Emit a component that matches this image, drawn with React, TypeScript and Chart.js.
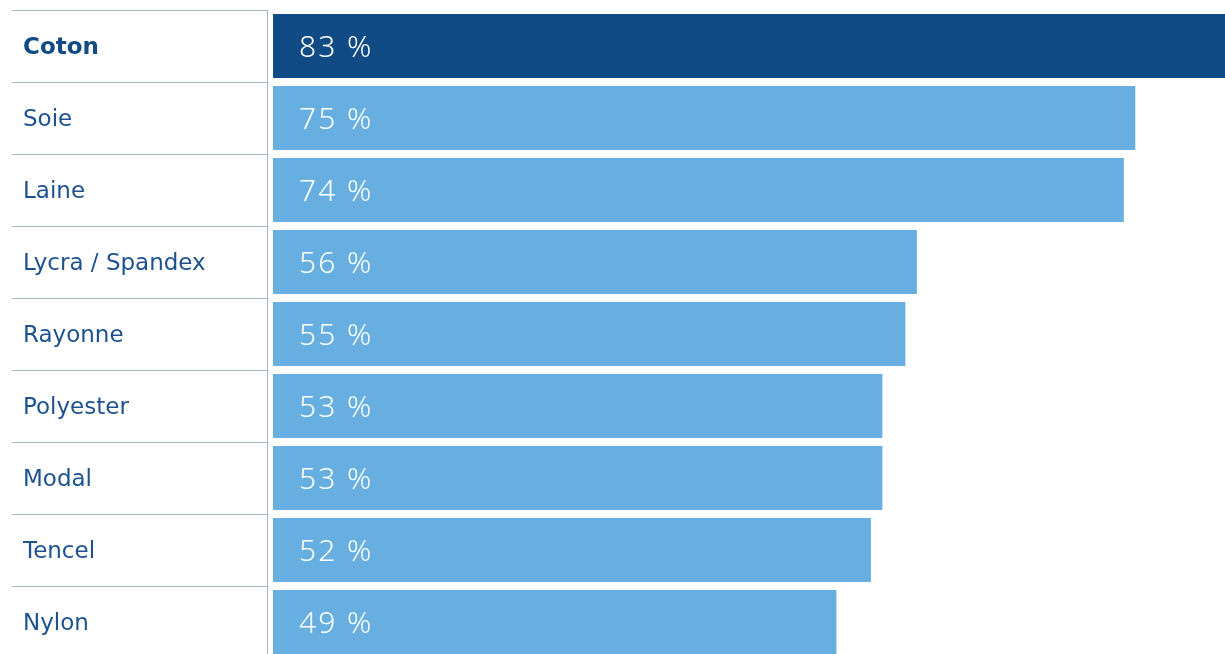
import React, { useEffect, useRef } from "react";
import { Chart, registerables } from "chart.js";

Chart.register(...registerables);

const categories = ["Coton", "Soie", "Laine", "Lycra / Spandex", "Rayonne", "Polyester", "Modal", "Tencel", "Nylon"];
const values = [83, 75, 74, 56, 55, 53, 53, 52, 49];
const highlightIndex = 0;

const DARK = "#114b85";
const LIGHT = "#67afe1";
const LABEL = "#1d5290";
const LINE = "#a6b5c4";
const FONT = "'DejaVu Sans', sans-serif";
const VALUE_FONT = "'Noto Sans', sans-serif";

const tablePlugin = {
  id: "tableLines",
  afterDraw(chart: any) {
    const { ctx, chartArea, scales } = chart;
    const y = scales.y;
    const x = scales.x;
    const n = categories.length;
    const step = n > 1 ? y.getPixelForValue(1) - y.getPixelForValue(0) : 72;
    ctx.save();
    ctx.strokeStyle = LINE;
    ctx.lineWidth = 1;
    for (let i = 0; i < n; i++) {
      const yy = Math.round(y.getPixelForValue(i) - step / 2) + 0.5;
      ctx.beginPath();
      ctx.moveTo(12, yy);
      ctx.lineTo(chartArea.left - 6, yy);
      ctx.stroke();
    }
    const vx = chartArea.left - 6 + 0.5;
    ctx.beginPath();
    ctx.moveTo(vx, Math.round(y.getPixelForValue(0) - step / 2));
    ctx.lineTo(vx, chart.height);
    ctx.stroke();

    ctx.fillStyle = "#ffffff";
    ctx.font = `300 30px ${VALUE_FONT}`;
    try {
      (ctx as any).letterSpacing = "2px";
    } catch (e) {}
    ctx.textAlign = "left";
    ctx.textBaseline = "middle";
    values.forEach((v, i) => {
      ctx.fillText(`${v} %`, x.getPixelForValue(0) + 26, y.getPixelForValue(i) + 2);
    });
    ctx.restore();
  },
};

export default function App() {
  const ref = useRef<HTMLCanvasElement>(null);
  useEffect(() => {
    if (!ref.current) return;
    const chart = new Chart(ref.current, {
      type: "bar",
      data: {
        labels: categories,
        datasets: [
          {
            data: values,
            backgroundColor: values.map((_, i) => (i === highlightIndex ? DARK : LIGHT)),
            borderWidth: 0,
            categoryPercentage: 1,
            barPercentage: 64 / 72,
          },
        ],
      },
      options: {
        indexAxis: "y",
        animation: false,
        responsive: false,
        devicePixelRatio: 1,
        layout: { padding: { left: 23, top: 10, bottom: 2, right: 0 } },
        plugins: { legend: { display: false }, tooltip: { enabled: false } },
        scales: {
          x: { display: false, min: 0, max: 82.8 },
          y: {
            grid: { display: false, drawTicks: false },
            border: { display: false },
            ticks: {
              crossAlign: "far",
              padding: 0,
              labelOffset: 2,
              font: (c: any) => ({
                family: FONT,
                size: 23,
                weight: c.index === highlightIndex ? "bold" : "normal",
              }),
              color: (c: any) => (c.index === highlightIndex ? DARK : LABEL),
            } as any,
            afterFit: (s: any) => {
              s.width = 250;
              s.paddingTop = 0;
              s.paddingBottom = 0;
            },
          },
        },
      } as any,
      plugins: [tablePlugin],
    });
    return () => chart.destroy();
  }, []);
  return (
    <div style={{ position: "fixed", left: 0, top: 0, width: 1225, height: 654, overflow: "hidden", background: "#fff" }}>
      <canvas ref={ref} width={1225} height={660} style={{ display: "block" }} />
    </div>
  );
}
